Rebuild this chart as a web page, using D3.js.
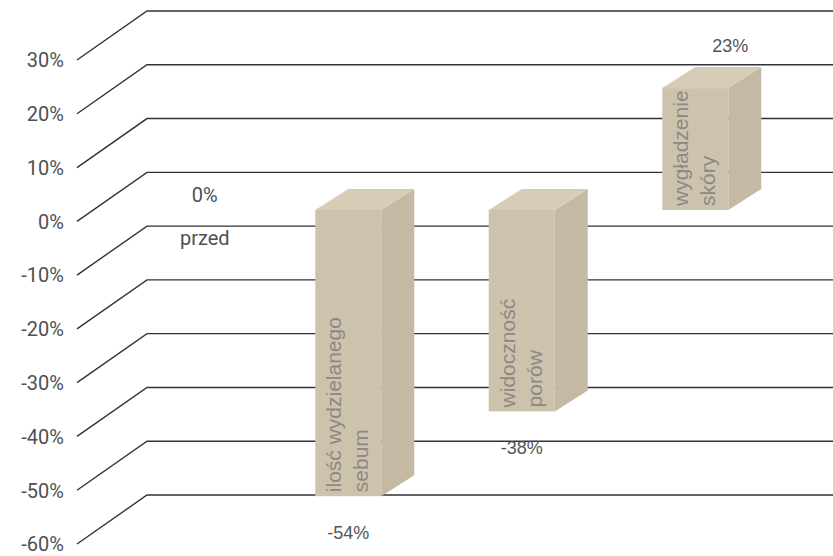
<!DOCTYPE html>
<html>
<head>
<meta charset="utf-8">
<script src="https://cdn.jsdelivr.net/npm/d3@7"></script>
<style>
  body { margin: 0; background: #fff; }
  svg { display: block; }
</style>
</head>
<body>
<svg width="833" height="556"></svg>
<script>
// data
var categories = ["przed", "ilość wydzielanego sebum", "widoczność porów", "wygładzenie skóry"];
var nameLines = [["przed"], ["ilość wydzielanego", "sebum"], ["widoczność", "porów"], ["wygładzenie", "skóry"]];
var values = [0, -54, -38, 23];
var tickValues = [-60, -50, -40, -30, -20, -10, 0, 10, 20, 30];

var svg = d3.select("svg");

// front plane of the floor/walls, and the plane the bars stand in
var y = d3.scaleLinear().domain([-60, 30]).range([544, 60]);
var yBar = d3.scaleLinear().domain([-60, 30]).range([528, 51]);
var x = d3.scalePoint().domain(categories).range([88, 782]).padding(0.5);

var depth = { dx: 70, dy: -49 };   // gridline depth
var barDepth = { dx: 33, dy: -21 };
var barW = 66;
var frontX = 77;

// gridlines: oblique piece on the side wall, then flat along the back
var grid = svg.append("g");
tickValues.forEach(function(t) {
  var yy = y(t);
  grid.append("path")
    .attr("d", "M" + frontX + "," + yy +
               "L" + (frontX + depth.dx) + "," + (yy + depth.dy) +
               "L833," + (yy + depth.dy))
    .attr("fill", "none")
    .attr("stroke", "#333")
    .attr("stroke-width", 1.4);
  grid.append("text")
    .attr("x", 64)
    .attr("y", yy + 2)
    .attr("text-anchor", "end")
    .attr("dominant-baseline", "middle")
    .attr("font-family", "Roboto")
    .attr("font-size", 20)
    .attr("fill", "#505050")
    .text(t + "%");
});

// bars
var bars = svg.append("g");
values.forEach(function(v, i) {
  var c = categories[i];
  var x0 = x(c) - barW / 2;
  var x1 = x0 + barW;
  var yTop = yBar(Math.max(v, 0));
  var yBot = yBar(Math.min(v, 0));

  if (v === 0) {
    // no block for the baseline, only its labels
    bars.append("text")
      .attr("x", x(c) + 30).attr("y", y(0) - 25)
      .attr("text-anchor", "middle").attr("dominant-baseline", "middle")
      .attr("font-family", "Roboto").attr("font-size", 20).attr("fill", "#505050")
      .text(v + "%");
    bars.append("text")
      .attr("x", x(c) + 30).attr("y", y(0) + 18)
      .attr("text-anchor", "middle").attr("dominant-baseline", "middle")
      .attr("font-family", "Roboto").attr("font-size", 20).attr("fill", "#505050")
      .text(nameLines[i][0]);
    return;
  }

  // side face
  bars.append("path")
    .attr("d", "M" + x1 + "," + yTop +
               "L" + (x1 + barDepth.dx) + "," + (yTop + barDepth.dy) +
               "L" + (x1 + barDepth.dx) + "," + (yBot + barDepth.dy) +
               "L" + x1 + "," + yBot + "Z")
    .attr("fill", "#c4b9a3");
  // top face
  bars.append("path")
    .attr("d", "M" + x0 + "," + yTop +
               "L" + (x0 + barDepth.dx) + "," + (yTop + barDepth.dy) +
               "L" + (x1 + barDepth.dx) + "," + (yTop + barDepth.dy) +
               "L" + x1 + "," + yTop + "Z")
    .attr("fill", "#d6ccb7");
  // front face
  bars.append("rect")
    .attr("x", x0).attr("y", yTop)
    .attr("width", barW).attr("height", yBot - yTop)
    .attr("fill", "#cdc3ad");

  // category name written up the front face
  nameLines[i].forEach(function(line, k) {
    var bx = x0 + 26 + k * 27;
    var by = yBot - 4;
    bars.append("text")
      .attr("transform", "translate(" + bx + "," + by + ") rotate(-90)")
      .attr("font-family", "Liberation Sans")
      .attr("font-size", 21)
      .attr("fill", "#8c8984")
      .text(line);
  });

  // value label
  var lbl = bars.append("text")
    .attr("text-anchor", "middle")
    .attr("dominant-baseline", "middle")
    .attr("font-family", "Liberation Sans")
    .attr("font-size", 18)
    .attr("fill", "#555")
    .text(v + "%");
  if (v < 0) {
    lbl.attr("x", x(c)).attr("y", yBot + 38);
  } else {
    lbl.attr("x", x(c) + 35).attr("y", yTop - 41);
  }
});
</script>
</body>
</html>
